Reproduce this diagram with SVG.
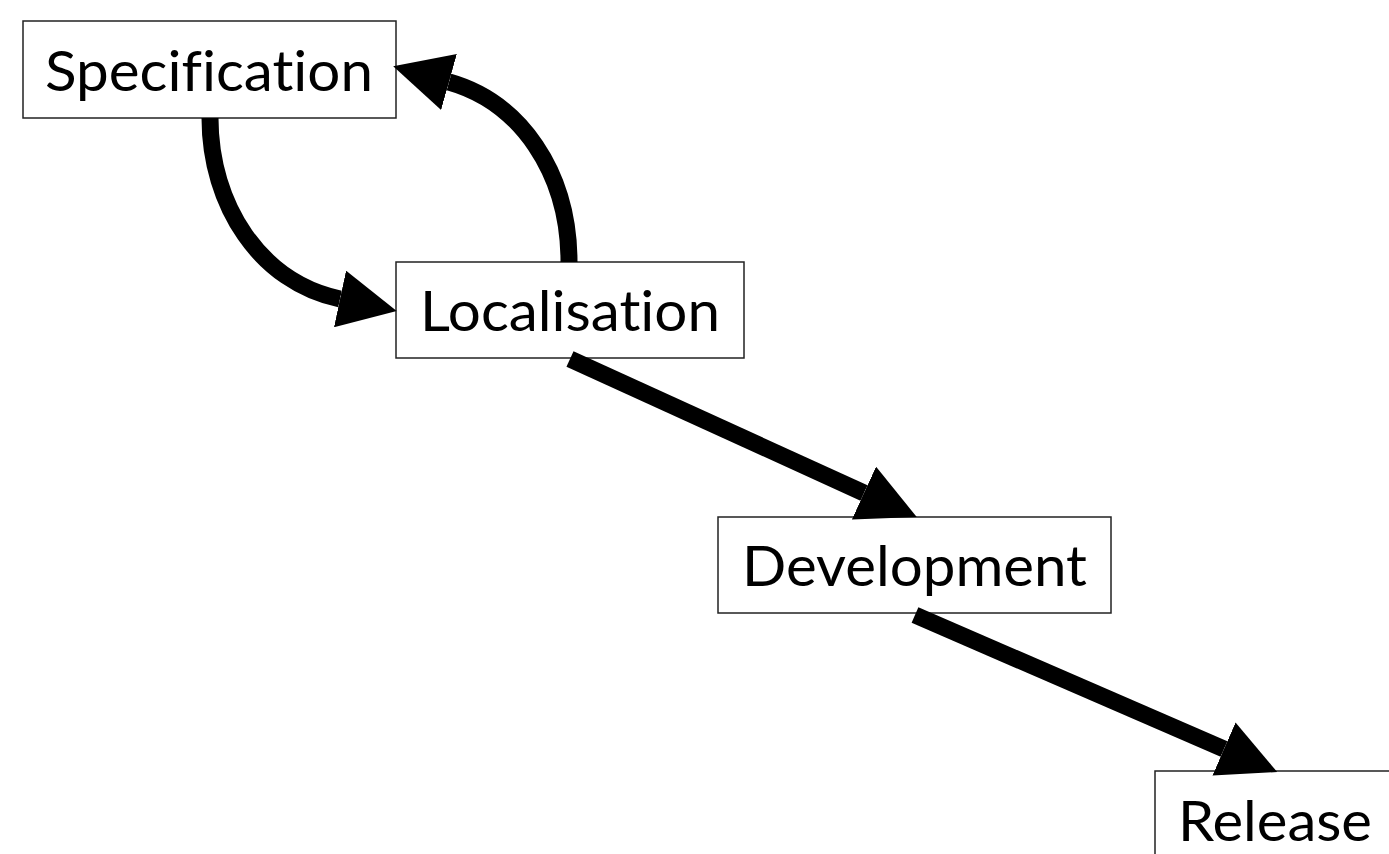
<svg xmlns="http://www.w3.org/2000/svg" width="1389" height="854" viewBox="0 0 1389 854">
<style>
.box{fill:#fff;stroke:#222;stroke-width:1.5}
.lbl{font-family:Lato,"Liberation Sans",sans-serif;font-size:56px;fill:#000;font-variant-ligatures:none;font-feature-settings:"liga" 0}
.conn{fill:none;stroke:#000;stroke-width:17;marker-end:url(#ah)}
</style>
<defs>
<marker id="ah" markerUnits="userSpaceOnUse" markerWidth="58" markerHeight="58" refX="0" refY="28" orient="auto" viewBox="0 0 56 56">
<path d="M0,0 L56,28 L0,56 z" fill="#000"/>
</marker>
</defs>
<rect width="1389" height="854" fill="#fff"/>
<g id="node-specification">
<rect class="box" x="23" y="21" width="373" height="97"/>
<text class="lbl" x="45" y="91" textLength="328" lengthAdjust="spacingAndGlyphs">Specification</text>
</g>
<g id="node-localisation">
<rect class="box" x="396" y="262" width="348" height="96"/>
<text class="lbl" x="420" y="331" textLength="300" lengthAdjust="spacingAndGlyphs">Localisation</text>
</g>
<g id="node-development">
<rect class="box" x="718" y="517" width="393" height="96"/>
<text class="lbl" x="742" y="586" textLength="345" lengthAdjust="spacingAndGlyphs">Development</text>
</g>
<g id="node-release">
<rect class="box" x="1155" y="771" width="260" height="120"/>
<text class="lbl" x="1178" y="841" textLength="194" lengthAdjust="spacingAndGlyphs">Release</text>
</g>
<g id="connectors">
<path class="conn" d="M210,118 C210,205 260,282 340,299"/>
<path class="conn" d="M569,262 C569,172 520,102 449,82"/>
<path class="conn" d="M570,359 L864,493"/>
<path class="conn" d="M915,615 L1224,749"/>
</g>
</svg>
